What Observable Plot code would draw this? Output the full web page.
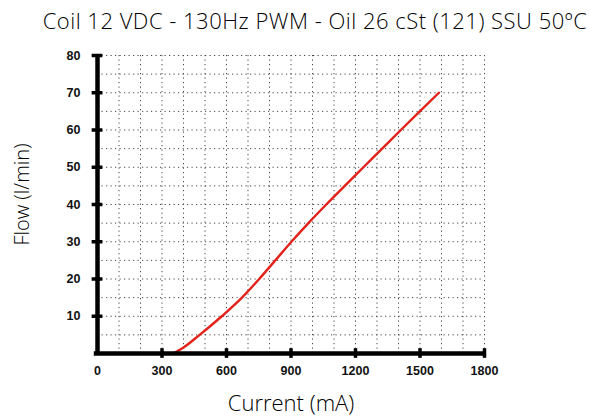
<!DOCTYPE html>
<html>
<head>
<meta charset="utf-8">
<script src="https://cdn.jsdelivr.net/npm/d3@7"></script>
<script src="https://cdn.jsdelivr.net/npm/@observablehq/plot@0.6"></script>
<style>
  html, body { margin: 0; padding: 0; background: #fff; }
  #title { width: 608px; height: 40px; line-height: 40px; text-align: center; font-family: "Open Sans", sans-serif; font-weight: 300; font-size: 22px; letter-spacing: 0.5px; color: #000; padding-left: 22px; box-sizing: border-box; white-space: nowrap; }
</style>
</head>
<body>
<div id="title"></div>
<div id="chart"></div>
<script>
const titleText = "Coil 12 VDC - 130Hz PWM - Oil 26 cSt (121) SSU 50ºC";
const xLabel = "Current (mA)";
const yLabel = "Flow (l/min)";
const xTicks = [0, 300, 600, 900, 1200, 1500, 1800];
const yTicks = [10, 20, 30, 40, 50, 60, 70, 80];
const current = [352, 400, 475, 578, 672, 752, 827, 902, 981, 1064, 1150, 1237, 1324, 1411, 1499, 1588];
const flow    = [0,   1.6, 5,   10,  15,  20,  25,  30,  35,  40,   45,   50,   55,   60,   65,   70];

document.getElementById("title").textContent = titleText;
const data = current.map((c, i) => ({current: c, flow: flow[i]}));
const gridX = d3.range(100, 1801, 100);
const gridY = d3.range(5, 81, 5);
const lightFont = "'Open Sans', sans-serif";
const boldFont = "'Liberation Sans', Arial, sans-serif";

const chart = Plot.plot({
  width: 608,
  height: 379,
  marginTop: 15,
  marginBottom: 66,
  marginLeft: 97,
  marginRight: 124,
  x: {domain: [0, 1800]},
  y: {domain: [0, 80]},
  style: {background: "#fff", overflow: "visible"},
  marks: [
    Plot.ruleX(gridX, {stroke: "#444", strokeWidth: 1, strokeDasharray: "1.2,3.3"}),
    Plot.ruleY(gridY, {stroke: "#444", strokeWidth: 1, strokeDasharray: "1.2,3.3"}),
    Plot.line(data, {x: "current", y: "flow", stroke: "#e3221c", strokeWidth: 2.4, curve: "monotone-x"}),
    Plot.ruleX([0], {stroke: "#000", strokeWidth: 4.5}),
    Plot.ruleY([0], {stroke: "#000", strokeWidth: 4.5, x1: -15, x2: 1800}),
    Plot.ruleX(xTicks.slice(1), {x: d => d, y1: -1.3, y2: 1.3, stroke: "#000", strokeWidth: 3.5}),
    Plot.ruleY(yTicks, {y: d => d, x1: -25, x2: 25, stroke: "#000", strokeWidth: 3.5}),
    Plot.axisX(xTicks, {tickSize: 0, tickPadding: 13, tickFormat: d => String(d), fontSize: 12.5, fontWeight: "bold", fontFamily: boldFont, fill: "#111", label: null}),
    Plot.axisY(yTicks, {tickSize: 0, tickPadding: 17, tickFormat: d => String(d), fontSize: 12.5, fontWeight: "bold", fontFamily: boldFont, fill: "#111", label: null}),
    Plot.text([xLabel], {frameAnchor: "bottom", dy: 57, fontSize: 22, fontWeight: 300, fontFamily: lightFont, fill: "#000"}),
    Plot.text([yLabel], {frameAnchor: "left", textAnchor: "middle", dx: -75, dy: -10, rotate: -90, fontSize: 20, fontWeight: 300, fontFamily: lightFont, fill: "#000"})
  ]
});
document.getElementById("chart").appendChild(chart);
</script>
</body>
</html>
